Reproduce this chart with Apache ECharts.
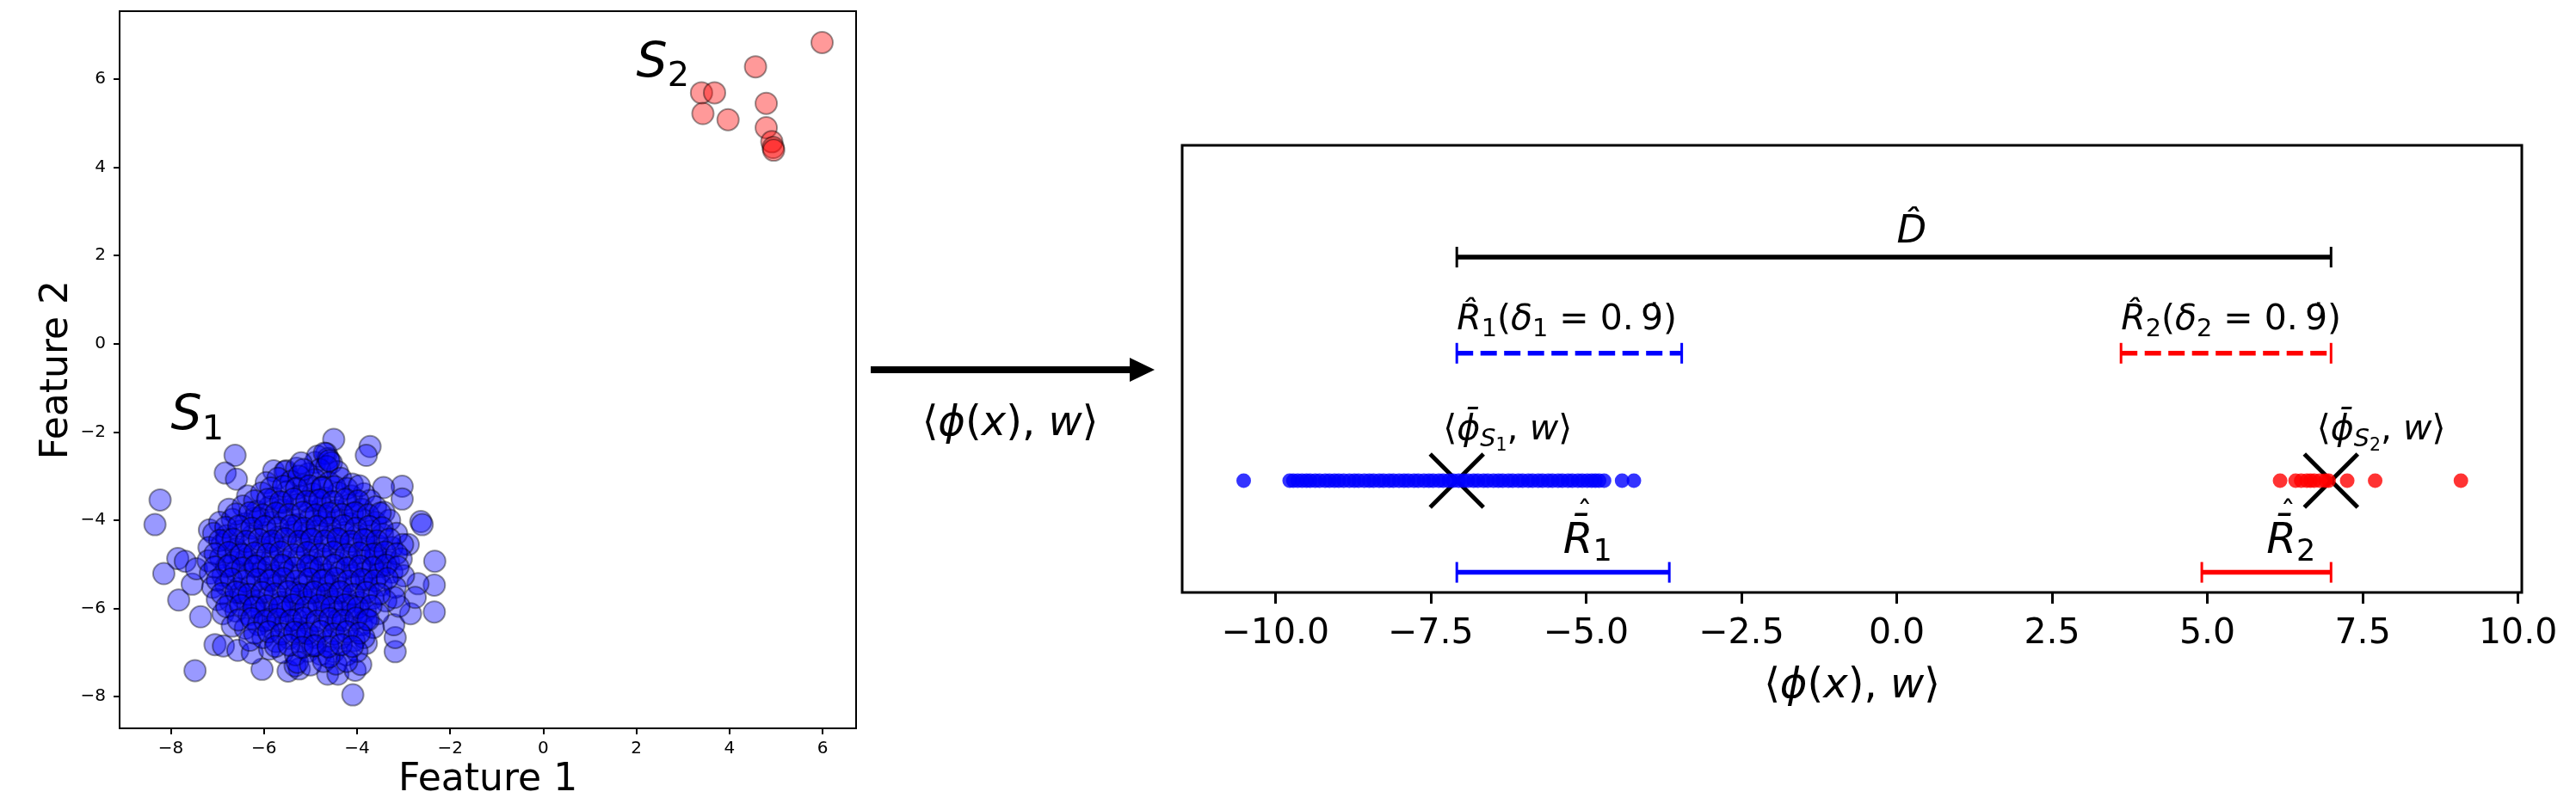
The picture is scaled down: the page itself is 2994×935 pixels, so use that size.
<!DOCTYPE html>
<html>
<head>
<meta charset="utf-8">
<script src="https://cdn.jsdelivr.net/npm/echarts@6.0.0/dist/echarts.min.js"></script>
<style>
html, body { margin: 0; padding: 0; background: #fff; }
#chart { width: 2994px; height: 935px; }
</style>
</head>
<body>
<div id="chart"></div>
<script>
const FONT = 'DejaVu Sans';

// ---- left panel: the two groups in feature space ----
const s1Points = [
    // outliers round the blob
    [-4.5, -2.17], [-3.72, -2.33], [-3.8, -2.53], [-6.62, -2.53], [-6.83, -2.93], [-6.59, -3.07],
    [-8.23, -3.54], [-8.34, -4.1], [-7.85, -4.87], [-8.15, -5.21], [-7.83, -5.81], [-7.36, -6.19],
    [-7.48, -7.41], [-6.04, -7.38], [-5.48, -7.42], [-5.24, -7.37], [-4.63, -7.49], [-4.41, -7.49],
    [-4.04, -7.4], [-4.09, -7.96], [-3.18, -6.98], [-3.18, -6.66], [-3.21, -6.37], [-2.85, -6.12],
    [-2.34, -6.08], [-2.34, -5.47], [-2.33, -4.93], [-2.69, -5.44], [-2.63, -4.03], [-2.6, -4.1],
    [-3.03, -3.23], [-3.03, -3.52], [-3.43, -3.26], [-3.92, -7.27], [-7.05, -6.82], [-6.87, -6.85],
    [-6.56, -6.95], [-6.25, -7.01], [-5.88, -6.92], [-5.33, -7.3], [-3.8, -6.79], [-7.54, -5.45],
    [-7.69, -4.93], [-7.17, -4.22], [-5.79, -2.88], [-5.52, -2.88], [-4.66, -2.49], [-4.9, -2.69],
    [-2.75, -5.75], [-2.9, -4.55], [-3.1, -5.95], [-7.45, -5.1],
    // body of the blob
    [-4.85, -2.55], [-4.62, -2.6], [-4.7, -2.48], [-4.55, -2.7],
    [-5.55, -2.9], [-5.3, -2.82], [-5.05, -2.95], [-4.8, -2.85], [-4.42, -2.9], [-4.65, -2.78], [-5.2, -2.7],
    [-5.95, -3.15], [-5.7, -3.05], [-5.42, -3.12], [-5.15, -3.2], [-4.9, -3.08], [-4.6, -3.15], [-4.35, -3.05], [-4.1, -3.18], [-5.25, -3.0],
    [-6.35, -3.45], [-6.05, -3.38], [-5.78, -3.5], [-5.5, -3.35], [-5.22, -3.45], [-4.95, -3.4], [-4.68, -3.5], [-4.4, -3.38], [-4.12, -3.45], [-3.85, -3.4], [-3.72, -3.55],
    [-6.75, -3.75], [-6.45, -3.68], [-6.15, -3.8], [-5.88, -3.7], [-5.6, -3.76], [-5.3, -3.65], [-5.02, -3.8], [-4.75, -3.7], [-4.45, -3.78], [-4.18, -3.66], [-3.9, -3.75], [-3.6, -3.7], [-3.42, -3.82],
    [-6.95, -4.05], [-6.68, -3.98], [-6.4, -4.08], [-6.1, -3.95], [-5.85, -4.05], [-5.55, -4.0], [-5.28, -4.1], [-5.0, -3.95], [-4.72, -4.05], [-4.45, -4.0], [-4.15, -4.08], [-3.88, -3.98], [-3.6, -4.05], [-3.3, -4.0],
    [-7.08, -4.3], [-6.8, -4.35], [-6.52, -4.25], [-6.25, -4.35], [-5.95, -4.28], [-5.68, -4.38], [-5.4, -4.26], [-5.1, -4.33], [-4.85, -4.25], [-4.55, -4.36], [-4.28, -4.28], [-4.0, -4.35], [-3.72, -4.25], [-3.45, -4.32], [-3.15, -4.3],
    [-7.18, -4.62], [-6.9, -4.55], [-6.6, -4.65], [-6.33, -4.58], [-6.05, -4.66], [-5.78, -4.55], [-5.5, -4.62], [-5.2, -4.56], [-4.93, -4.67], [-4.65, -4.58], [-4.38, -4.64], [-4.1, -4.55], [-3.82, -4.65], [-3.55, -4.58], [-3.25, -4.62], [-3.02, -4.55],
    [-7.2, -4.92], [-6.93, -4.85], [-6.65, -4.95], [-6.38, -4.88], [-6.1, -4.96], [-5.82, -4.86], [-5.55, -4.93], [-5.25, -4.85], [-4.98, -4.95], [-4.7, -4.88], [-4.42, -4.96], [-4.15, -4.85], [-3.88, -4.92], [-3.6, -4.86], [-3.32, -4.95], [-3.05, -4.88],
    [-7.15, -5.2], [-6.88, -5.25], [-6.6, -5.15], [-6.32, -5.22], [-6.05, -5.16], [-5.77, -5.26], [-5.48, -5.18], [-5.2, -5.24], [-4.92, -5.15], [-4.64, -5.23], [-4.36, -5.17], [-4.08, -5.25], [-3.8, -5.16], [-3.52, -5.22], [-3.25, -5.18], [-3.0, -5.26],
    [-7.1, -5.52], [-6.82, -5.46], [-6.55, -5.55], [-6.27, -5.48], [-6.0, -5.56], [-5.72, -5.46], [-5.44, -5.54], [-5.15, -5.47], [-4.87, -5.55], [-4.6, -5.46], [-4.32, -5.53], [-4.04, -5.47], [-3.76, -5.55], [-3.48, -5.47], [-3.18, -5.52],
    [-7.0, -5.8], [-6.72, -5.85], [-6.45, -5.76], [-6.17, -5.84], [-5.9, -5.77], [-5.62, -5.86], [-5.34, -5.78], [-5.05, -5.85], [-4.77, -5.76], [-4.5, -5.84], [-4.22, -5.78], [-3.94, -5.86], [-3.66, -5.77], [-3.38, -5.83], [-3.2, -5.75],
    [-6.88, -6.12], [-6.6, -6.06], [-6.32, -6.14], [-6.05, -6.08], [-5.77, -6.15], [-5.5, -6.06], [-5.22, -6.13], [-4.94, -6.07], [-4.66, -6.15], [-4.38, -6.07], [-4.1, -6.13], [-3.82, -6.06], [-3.55, -6.12],
    [-6.68, -6.4], [-6.4, -6.45], [-6.12, -6.37], [-5.85, -6.44], [-5.57, -6.38], [-5.3, -6.46], [-5.02, -6.37], [-4.74, -6.44], [-4.46, -6.38], [-4.18, -6.45], [-3.9, -6.37], [-3.65, -6.43],
    [-6.3, -6.72], [-6.02, -6.66], [-5.74, -6.75], [-5.46, -6.68], [-5.18, -6.74], [-4.9, -6.66], [-4.62, -6.74], [-4.34, -6.67], [-4.06, -6.73], [-3.85, -6.66],
    [-5.6, -7.0], [-5.32, -7.05], [-5.05, -6.97], [-4.78, -7.04], [-4.5, -6.98], [-4.22, -7.05], [-4.0, -6.97],
    [-5.28, -7.22], [-5.0, -7.28], [-4.72, -7.2], [-4.45, -7.26], [-4.22, -7.2],
    [-6.2, -3.95], [-5.9, -4.5], [-5.6, -3.6], [-5.3, -4.15], [-5.0, -4.45], [-4.7, -3.9], [-4.4, -4.45], [-4.1, -3.85],
    [-3.8, -4.45], [-6.5, -4.75], [-6.2, -5.05], [-5.9, -5.35], [-5.6, -5.05], [-5.3, -5.65], [-5.0, -5.05], [-4.7, -5.35],
    [-4.4, -5.65], [-4.1, -5.05], [-3.8, -5.35], [-3.5, -5.05], [-6.5, -5.65], [-6.2, -5.95], [-5.9, -6.25], [-5.6, -5.95],
    [-5.3, -6.25], [-5.0, -5.65], [-4.7, -5.95], [-4.4, -6.25], [-4.1, -5.95], [-3.8, -6.25], [-6.8, -5.05], [-6.8, -4.45],
    [-4.9, -3.55], [-5.15, -2.85], [-4.75, -3.25], [-4.6, -2.65], [-4.95, -6.85], [-4.6, -7.1], [-5.2, -6.55], [-3.6, -4.75],
    // second layer between the rows above
    [-5.85, -3.27], [-5.58, -3.23], [-5.3, -3.28], [-5.02, -3.22], [-4.75, -3.27], [-4.48, -3.24], [-4.22, -3.28], [-3.95, -3.22],
    [-6.2, -3.56], [-5.92, -3.53], [-5.64, -3.58], [-5.36, -3.52], [-5.08, -3.57], [-4.8, -3.54], [-4.52, -3.58], [-4.25, -3.53], [-3.98, -3.56],
    [-6.6, -3.86], [-6.3, -3.83], [-6.02, -3.88], [-5.74, -3.84], [-5.46, -3.87], [-5.17, -3.82], [-4.88, -3.88], [-4.6, -3.84],
    [-4.32, -3.87], [-4.04, -3.83], [-3.76, -3.88], [-3.5, -3.84],
    [-6.82, -4.16], [-6.54, -4.13], [-6.26, -4.18], [-5.98, -4.14], [-5.7, -4.17], [-5.42, -4.12], [-5.13, -4.18], [-4.86, -4.14],
    [-4.58, -4.17], [-4.3, -4.12], [-4.02, -4.18], [-3.74, -4.14], [-3.46, -4.17],
    [-6.95, -4.46], [-6.66, -4.43], [-6.38, -4.48], [-6.1, -4.44], [-5.82, -4.47], [-5.54, -4.42], [-5.25, -4.48], [-4.97, -4.43],
    [-4.69, -4.47], [-4.41, -4.42], [-4.13, -4.48], [-3.85, -4.44], [-3.57, -4.47], [-3.3, -4.43],
    [-7.05, -4.76], [-6.76, -4.73], [-6.48, -4.78], [-6.2, -4.74], [-5.92, -4.77], [-5.64, -4.72], [-5.36, -4.78], [-5.07, -4.73],
    [-4.79, -4.77], [-4.51, -4.72], [-4.23, -4.78], [-3.95, -4.74], [-3.67, -4.77], [-3.4, -4.72], [-3.15, -4.76],
    [-7.05, -5.06], [-6.75, -5.03], [-6.46, -5.08], [-6.18, -5.04], [-5.9, -5.07], [-5.62, -5.02], [-5.34, -5.08], [-5.06, -5.03],
    [-4.78, -5.07], [-4.5, -5.02], [-4.22, -5.08], [-3.94, -5.04], [-3.66, -5.07], [-3.38, -5.02], [-3.12, -5.06],
    [-7.0, -5.36], [-6.7, -5.33], [-6.42, -5.38], [-6.14, -5.34], [-5.86, -5.37], [-5.58, -5.32], [-5.3, -5.38], [-5.02, -5.33],
    [-4.74, -5.37], [-4.46, -5.32], [-4.18, -5.38], [-3.9, -5.34], [-3.62, -5.37], [-3.35, -5.32],
    [-6.9, -5.66], [-6.6, -5.63], [-6.32, -5.68], [-6.04, -5.64], [-5.76, -5.67], [-5.48, -5.62], [-5.2, -5.68], [-4.92, -5.63],
    [-4.64, -5.67], [-4.36, -5.62], [-4.08, -5.68], [-3.8, -5.64], [-3.52, -5.67],
    [-6.8, -5.96], [-6.5, -5.93], [-6.22, -5.98], [-5.94, -5.94], [-5.66, -5.97], [-5.38, -5.92], [-5.1, -5.98], [-4.82, -5.93],
    [-4.54, -5.97], [-4.26, -5.92], [-3.98, -5.98], [-3.7, -5.94],
    [-6.55, -6.26], [-6.26, -6.23], [-5.98, -6.28], [-5.7, -6.24], [-5.42, -6.27], [-5.14, -6.22], [-4.86, -6.28], [-4.58, -6.23],
    [-4.3, -6.27], [-4.02, -6.22], [-3.76, -6.26],
    [-6.2, -6.56], [-5.9, -6.53], [-5.62, -6.58], [-5.34, -6.54], [-5.06, -6.57], [-4.78, -6.52], [-4.5, -6.58], [-4.22, -6.53], [-3.95, -6.56],
    [-5.75, -6.86], [-5.46, -6.83], [-5.18, -6.88], [-4.9, -6.84], [-4.62, -6.87], [-4.34, -6.82], [-4.1, -6.86]
];
const s2Points = [
    [5.99, 6.83], [4.56, 6.28], [3.4, 5.69], [3.68, 5.69], [3.43, 5.22], [3.97, 5.08],
    [4.79, 5.45], [4.79, 4.9], [4.91, 4.58], [4.94, 4.45], [4.95, 4.39]
];
const featTicks = [-8, -6, -4, -2, 0, 2, 4, 6];
const groupTags = ['{i|S}{s|1}', '{i|S}{s|2}'];
const groupTagPos = [[-8, -2], [2, 6]];

// ---- right panel: projections on w ----
const s1Proj = [
    -10.51, -9.77, -9.71, -9.64, -9.57, -9.5, -9.44, -9.36, -9.29, -9.2, -9.13, -9.05, -8.98,
    -8.9, -8.81, -8.73, -8.66, -8.57, -8.49, -8.42, -8.33, -8.26, -8.17, -8.1, -8.01, -7.93,
    -7.86, -7.77, -7.7, -7.61, -7.53, -7.46, -7.37, -7.3, -7.21, -7.14, -7.05, -6.97, -6.9,
    -6.81, -6.74, -6.65, -6.58, -6.49, -6.41, -6.34, -6.25, -6.18, -6.09, -6.02, -5.93, -5.86,
    -5.77, -5.7, -5.61, -5.54, -5.45, -5.38, -5.29, -5.22, -5.13, -5.06, -4.98, -4.91, -4.85,
    -4.79, -4.71, -4.42, -4.23
];
const s2Proj = [6.17, 6.42, 6.51, 6.6, 6.66, 6.72, 6.81, 6.9, 6.95, 7.25, 7.7, 9.08];
const projTicks = [-10, -7.5, -5, -2.5, 0, 2.5, 5, 7.5, 10];
const meanProj = [-7.08, 6.99];
const dSpan = [-7.08, 6.99];
const rHatSpans = [[-7.08, -3.46], [3.61, 6.99]];
const rBarSpans = [[-7.08, -3.66], [4.91, 6.99]];

// vertical rows of the right panel (its y axis runs -1 .. 3, no labels)
const rows = { pts: 0, rBar: -0.82, rHat: 1.14, d: 2.0,
               meanTxt: 0.448, rBarTxt: -0.546, rHatTxt: 1.433, dTxt: 2.22 };

const mathRich = F => {
    const base = { fontFamily: FONT, fill: '#000', color: '#000', verticalAlign: 'middle' };
    return {
        r: { ...base, fontSize: F, lineHeight: F },
        i: { ...base, fontSize: F, lineHeight: F, fontStyle: 'italic' },
        s: { ...base, fontSize: 0.7 * F, lineHeight: 0.7 * F, padding: [0.52 * F, 0, 0, 0] },
        si: { ...base, fontSize: 0.7 * F, lineHeight: 0.7 * F, fontStyle: 'italic', padding: [0.52 * F, 0, 0, 0] },
        ss: { ...base, fontSize: 0.5 * F, lineHeight: 0.5 * F, padding: [0.86 * F, 0, 0, 0] },
    };
};
const phiW = '{r|⟨}{i|ϕ}{r|(}{i|x}{r|), }{i|w}{r|⟩}';
const minus = v => String(v).replace('-', '\u2212');

const spanRender = (color, dashed) => (params, api) => {
    const y = api.value(2);
    const a = api.coord([api.value(0), y]);
    const b = api.coord([api.value(1), y]);
    const cap = 12;
    const capStyle = { stroke: color, lineWidth: 3 };
    return {
        type: 'group',
        children: [
            { type: 'line', shape: { x1: a[0], y1: a[1], x2: b[0], y2: b[1] },
              style: { stroke: color, lineWidth: 5.5, lineDash: dashed ? [19, 8.5] : null } },
            { type: 'line', shape: { x1: a[0], y1: a[1] - cap, x2: a[0], y2: a[1] + cap }, style: capStyle },
            { type: 'line', shape: { x1: b[0], y1: b[1] - cap, x2: b[0], y2: b[1] + cap }, style: capStyle },
        ],
    };
};
const textRender = (texts, F, dy, hat) => (params, api) => {
    const p = api.coord([api.value(0), api.value(1)]);
    const y = p[1] + (dy || 0);
    const children = [{
        type: 'text',
        x: p[0],
        y: y,
        style: {
            text: texts[params.dataIndex],
            rich: mathRich(F),
            fontFamily: FONT, fontSize: F, fill: '#000',
            align: 'left', verticalAlign: 'middle',
        },
    }];
    if (hat) {
        // hat sitting above the bar of R-bar
        children.push({
            type: 'text', x: p[0] + 0.5 * F, y: y - 0.62 * F,
            style: { text: '\u02C6', fontFamily: FONT, fontSize: 0.7 * F, fill: '#000', align: 'center', verticalAlign: 'middle' },
        });
    }
    return { type: 'group', children };
};
const crossRender = (params, api) => {
    const p = api.coord([api.value(0), api.value(1)]);
    const h = 31;
    const st = { stroke: '#000', lineWidth: 5 };
    return {
        type: 'group',
        children: [
            { type: 'line', shape: { x1: p[0] - h, y1: p[1] - h, x2: p[0] + h, y2: p[1] + h }, style: st },
            { type: 'line', shape: { x1: p[0] - h, y1: p[1] + h, x2: p[0] + h, y2: p[1] - h }, style: st },
        ],
    };
};

const chart = echarts.init(document.getElementById('chart'), null, { renderer: 'canvas' });

const option = {
    animation: false,
    backgroundColor: '#fff',
    textStyle: { fontFamily: FONT },
    grid: [
        { left: 139, top: 13, width: 856, height: 844, show: true, borderColor: '#000', borderWidth: 2, backgroundColor: '#fff' },
        { left: 1374, top: 169, width: 1557, height: 520, show: true, borderColor: '#000', borderWidth: 3, backgroundColor: '#fff' },
    ],
    xAxis: [
        {
            gridIndex: 0, type: 'value', min: -9.1, max: 6.72,
            axisLine: { show: false, onZero: false }, splitLine: { show: false },
            axisTick: { show: true, length: 7, lineStyle: { color: '#000', width: 2 }, customValues: featTicks },
            axisLabel: { fontFamily: FONT, fontSize: 20, color: '#000', margin: 14, customValues: featTicks, formatter: minus },
            name: 'Feature 1', nameLocation: 'middle', nameGap: 37,
            nameTextStyle: { fontFamily: FONT, fontSize: 44, color: '#000' },
        },
        {
            gridIndex: 1, type: 'value', min: -11.5, max: 10.06,
            axisLine: { show: false, onZero: false }, splitLine: { show: false },
            axisTick: { show: true, length: 13, lineStyle: { color: '#000', width: 3 }, customValues: projTicks },
            axisLabel: { fontFamily: FONT, fontSize: 41, color: '#000', margin: 28, customValues: projTicks,
                         formatter: v => minus(v.toFixed(1)) },
            name: phiW, nameLocation: 'middle', nameGap: 86,
            nameTextStyle: { fontFamily: FONT, fontSize: 48, color: '#000', rich: mathRich(48) },
        },
    ],
    yAxis: [
        {
            gridIndex: 0, type: 'value', min: -8.72, max: 7.54,
            axisLine: { show: false, onZero: false }, splitLine: { show: false },
            axisTick: { show: true, length: 7, lineStyle: { color: '#000', width: 2 }, customValues: featTicks },
            axisLabel: { fontFamily: FONT, fontSize: 20, color: '#000', margin: 16, customValues: featTicks, formatter: minus },
            name: 'Feature 2', nameLocation: 'middle', nameGap: 50,
            nameTextStyle: { fontFamily: FONT, fontSize: 44, color: '#000' },
        },
        {
            gridIndex: 1, type: 'value', min: -1, max: 3, show: false,
        },
    ],
    graphic: [
        { type: 'line', shape: { x1: 1012, y1: 430, x2: 1316, y2: 430 }, style: { stroke: '#000', lineWidth: 8 } },
        { type: 'polygon', shape: { points: [[1313, 416], [1342, 430], [1313, 444]] }, style: { fill: '#000' } },
        { type: 'text', x: 1174, y: 494,
          style: { text: phiW, rich: mathRich(48), fontFamily: FONT, fontSize: 48, fill: '#000', align: 'center', verticalAlign: 'middle' } },
    ],
    series: [
        {
            type: 'scatter', xAxisIndex: 0, yAxisIndex: 0, data: s1Points,
            symbolSize: 25, itemStyle: { color: '#0000ff', borderColor: '#000', borderWidth: 2, opacity: 0.4 },
            emphasis: { disabled: true }, silent: true,
        },
        {
            type: 'scatter', xAxisIndex: 0, yAxisIndex: 0, data: s2Points,
            symbolSize: 25, itemStyle: { color: '#ff0000', borderColor: '#000', borderWidth: 2, opacity: 0.4 },
            emphasis: { disabled: true }, silent: true,
        },
        {
            type: 'custom', xAxisIndex: 0, yAxisIndex: 0, data: groupTagPos,
            renderItem: textRender(groupTags, 57, -17), silent: true,
        },
        {
            type: 'scatter', xAxisIndex: 1, yAxisIndex: 1, data: s1Proj.map(v => [v, rows.pts]),
            symbolSize: 17, itemStyle: { color: '#0000ff' }, emphasis: { disabled: true }, silent: true,
        },
        {
            type: 'scatter', xAxisIndex: 1, yAxisIndex: 1, data: s2Proj.map(v => [v, rows.pts]),
            symbolSize: 17, itemStyle: { color: '#ff0000' }, emphasis: { disabled: true }, silent: true,
        },
        {
            type: 'custom', xAxisIndex: 1, yAxisIndex: 1, data: meanProj.map(v => [v, rows.pts]),
            renderItem: crossRender, silent: true,
        },
        {
            type: 'custom', xAxisIndex: 1, yAxisIndex: 1, data: [[dSpan[0], dSpan[1], rows.d]],
            renderItem: spanRender('#000', false), silent: true,
        },
        {
            type: 'custom', xAxisIndex: 1, yAxisIndex: 1, data: [[rHatSpans[0][0], rHatSpans[0][1], rows.rHat]],
            renderItem: spanRender('#0000ff', true), silent: true,
        },
        {
            type: 'custom', xAxisIndex: 1, yAxisIndex: 1, data: [[rHatSpans[1][0], rHatSpans[1][1], rows.rHat]],
            renderItem: spanRender('#ff0000', true), silent: true,
        },
        {
            type: 'custom', xAxisIndex: 1, yAxisIndex: 1, data: [[rBarSpans[0][0], rBarSpans[0][1], rows.rBar]],
            renderItem: spanRender('#0000ff', false), silent: true,
        },
        {
            type: 'custom', xAxisIndex: 1, yAxisIndex: 1, data: [[rBarSpans[1][0], rBarSpans[1][1], rows.rBar]],
            renderItem: spanRender('#ff0000', false), silent: true,
        },
        {
            type: 'custom', xAxisIndex: 1, yAxisIndex: 1, data: [[0, rows.dTxt]],
            renderItem: textRender(['{i|D\u0302}'], 45), silent: true,
        },
        {
            type: 'custom', xAxisIndex: 1, yAxisIndex: 1,
            data: [[rHatSpans[0][0], rows.rHatTxt], [rHatSpans[1][0], rows.rHatTxt]],
            renderItem: textRender([
                '{i|R\u0302}{s|1}{r|(}{i|δ}{s|1}{r| = 0.\u20099\u0307)}',
                '{i|R\u0302}{s|2}{r|(}{i|δ}{s|2}{r| = 0.\u20099\u0307)}',
            ], 41), silent: true,
        },
        {
            type: 'custom', xAxisIndex: 1, yAxisIndex: 1,
            data: [[meanProj[0] - 0.22, rows.meanTxt], [meanProj[1] - 0.23, rows.meanTxt]],
            renderItem: textRender([
                '{r|⟨}{i|ϕ\u0304}{si|S}{ss|1}{r|, }{i|w}{r|⟩}',
                '{r|⟨}{i|ϕ\u0304}{si|S}{ss|2}{r|, }{i|w}{r|⟩}',
            ], 41), silent: true,
        },
        {
            type: 'custom', xAxisIndex: 1, yAxisIndex: 1,
            data: [[(rBarSpans[0][0] + rBarSpans[0][1]) / 2, rows.rBarTxt], [(rBarSpans[1][0] + rBarSpans[1][1]) / 2, rows.rBarTxt]],
            renderItem: textRender(['{i|R\u0304}{s|1}', '{i|R\u0304}{s|2}'], 50, 0, true), silent: true,
        },
    ],
};
chart.setOption(option);
</script>
</body>
</html>
